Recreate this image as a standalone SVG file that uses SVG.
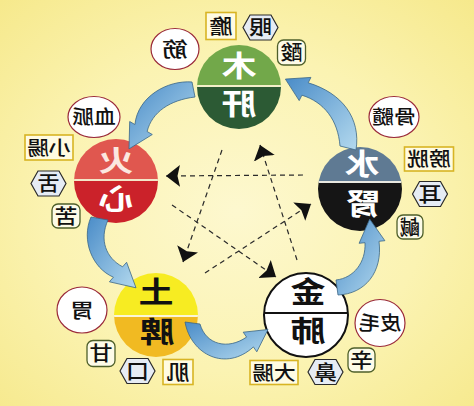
<svg xmlns="http://www.w3.org/2000/svg" width="474" height="406" viewBox="0 0 474 406">
<defs>
<radialGradient id="bg" cx="50%" cy="52%" r="72%">
<stop offset="0" stop-color="#fdf8cf"/>
<stop offset="0.55" stop-color="#fbf3b2"/>
<stop offset="1" stop-color="#f6e98c"/>
</radialGradient>
<linearGradient id="ag" x1="0" y1="0" x2="1" y2="1">
<stop offset="0" stop-color="#4a8cc8"/>
<stop offset="1" stop-color="#b3d9ee"/>
</linearGradient>
<marker id="ah" viewBox="0 -12 15 24" refX="14" refY="0" markerWidth="15" markerHeight="24" markerUnits="userSpaceOnUse" orient="auto">
<path d="M0,-11 L14,0 L0,11 L2.5,0 Z" fill="#111"/>
</marker>
<path id="hex" d="M-17.5,0 L-10.5,-12.5 L10.5,-12.5 L17.5,0 L10.5,12.5 L-10.5,12.5 Z"/>
<clipPath id="cc"><circle cx="0" cy="0" r="42"/></clipPath>
</defs>
<style>
.t{font-family:"Noto Sans CJK TC","Noto Sans CJK SC","Noto Sans CJK JP",sans-serif;text-anchor:middle}
.s{font-size:20px;font-weight:500;fill:#111}
.s2{font-size:19px;font-weight:500;fill:#111}
.big{font-size:29px;font-weight:700}
.circ{fill:#fff;stroke:#9a2a3a;stroke-width:1.2}
.box{fill:#fffbe2;stroke:#d8b424;stroke-width:1.6}
.hex{fill:#e6ecf4;stroke:#2a2a2a;stroke-width:1.2}
.rnd{fill:#fdfbe8;stroke:#4e5f2a;stroke-width:1.3}
.arr{fill:url(#ag);stroke:#3a6686;stroke-width:0.8}
.dash{fill:none;stroke:#2a2a2a;stroke-width:1.2;stroke-dasharray:5 4;marker-end:url(#ah)}
</style>
<rect width="474" height="406" fill="url(#bg)"/>

<!-- main nodes -->
<g id="wood" transform="translate(239,87)">
<g clip-path="url(#cc)">
<rect x="-43" y="-43" width="86" height="42" fill="#72a84a"/>
<rect x="-43" y="-1" width="86" height="44" fill="#2c5a34"/>
<line x1="-43" y1="-1" x2="43" y2="-1" stroke="#f3efc8" stroke-width="2"/>
</g>
<text class="t big" fill="#fff" transform="translate(0,-20) scale(-1.2,1)" y="10">木</text>
<text class="t big" fill="#fff" transform="translate(0,18) scale(-1.2,1)" y="10">肝</text>
</g>
<g id="fire" transform="translate(116,181)">
<g clip-path="url(#cc)">
<rect x="-43" y="-43" width="86" height="42" fill="#e0574f"/>
<rect x="-43" y="-1" width="86" height="44" fill="#cb222a"/>
<line x1="-43" y1="-1" x2="43" y2="-1" stroke="#f3e6c8" stroke-width="2"/>
</g>
<text class="t big" fill="#fbe8e0" transform="translate(0,-19) scale(-1.2,1)" y="10">火</text>
<text class="t big" fill="#fff" transform="translate(0,19) scale(-1.2,1)" y="10">心</text>
</g>
<g id="water" transform="translate(360,189)">
<g clip-path="url(#cc)">
<rect x="-43" y="-43" width="86" height="36" fill="#5f7a93"/>
<rect x="-43" y="-7" width="86" height="50" fill="#151515"/>
<line x1="-43" y1="-7" x2="43" y2="-7" stroke="#e8e8e0" stroke-width="2"/>
</g>
<text class="t big" fill="#fff" transform="translate(2,-24) scale(-1.2,1)" y="10">水</text>
<text class="t big" fill="#fff" transform="translate(3,16) scale(-1.2,1)" y="10">腎</text>
</g>
<g id="earth" transform="translate(156,315)">
<g clip-path="url(#cc)">
<rect x="-43" y="-43" width="86" height="44" fill="#f7ec22"/>
<rect x="-43" y="1" width="86" height="42" fill="#f1ba22"/>
<line x1="-43" y1="1" x2="43" y2="1" stroke="#fbf6d8" stroke-width="2"/>
</g>
<text class="t big" fill="#111" transform="translate(0,-22) scale(-1.2,1)" y="10">土</text>
<text class="t big" fill="#111" transform="translate(1,18) scale(-1.2,1)" y="10">脾</text>
</g>
<g id="metal" transform="translate(306,315)">
<circle r="42" fill="#fff" stroke="#111" stroke-width="2"/>
<line x1="-42" y1="-2" x2="42" y2="-2" stroke="#111" stroke-width="2"/>
<text class="t big" fill="#111" transform="translate(2,-22) scale(-1.2,1)" y="10">金</text>
<text class="t big" fill="#111" transform="translate(2,17) scale(-1.2,1)" y="10">肺</text>
</g>

<!-- wood labels -->
<g id="l-jin" transform="translate(175,49)"><ellipse class="circ" rx="24" ry="20.5"/><text class="t s" transform="scale(-1.3,1)" y="7.5">筋</text></g>
<g id="l-dan" transform="translate(221,26)"><rect class="box" x="-15" y="-13.5" width="30" height="27"/><text class="t s" transform="scale(-1.15,1)" y="7.5">膽</text></g>
<g id="l-yan" transform="translate(260.5,27.5)"><use href="#hex" class="hex"/><text class="t s" transform="scale(-1.15,1)" y="7.5">眼</text></g>
<g id="l-suan" transform="translate(291.5,52.5)"><rect class="rnd" x="-14" y="-12.5" width="28" height="25" rx="6"/><text class="t s" transform="scale(-1.1,1)" y="7.5">酸</text></g>

<!-- fire labels -->
<g id="l-xuemai" transform="translate(94,117)"><ellipse class="circ" rx="26" ry="20.5"/><text class="t s2" transform="scale(-1.15,1)" y="7">血脈</text></g>
<g id="l-xiaochang" transform="translate(49,147.5)"><rect class="box" x="-24" y="-12.5" width="48" height="25"/><text class="t s2" transform="scale(-1.15,1)" y="7">小腸</text></g>
<g id="l-she" transform="translate(48.5,183.5)"><use href="#hex" class="hex"/><text class="t s" transform="scale(-1.1,1)" y="7.5">舌</text></g>
<g id="l-ku" transform="translate(66,216)"><rect class="rnd" x="-14" y="-12" width="28" height="24" rx="6"/><text class="t s" transform="scale(-1.15,1)" y="7.5">苦</text></g>

<!-- water labels -->
<g id="l-gusui" transform="translate(394,117)"><ellipse class="circ" rx="25" ry="20.5"/><text class="t s2" transform="scale(-1.15,1)" y="7">骨髓</text></g>
<g id="l-pangguang" transform="translate(429,159)"><rect class="box" x="-24.5" y="-12" width="49" height="24"/><text class="t s2" transform="scale(-1.15,1)" y="7">膀胱</text></g>
<g id="l-er" transform="translate(430,194)"><use href="#hex" class="hex"/><text class="t s" transform="scale(-1.15,1)" y="7.5">耳</text></g>
<g id="l-xian" transform="translate(410,227)"><rect class="rnd" x="-13" y="-12" width="26" height="24" rx="6"/><text class="t s" transform="scale(-1.0,1)" y="7.5">鹹</text></g>

<!-- earth labels -->
<g id="l-wei" transform="translate(82,310)"><ellipse class="circ" rx="25" ry="23"/><text class="t s" transform="scale(-1.2,1)" y="7.5">胃</text></g>
<g id="l-gan" transform="translate(101,353.5)"><rect class="rnd" x="-14" y="-13" width="28" height="26" rx="6"/><text class="t s" transform="scale(-1.15,1)" y="7.5">甘</text></g>
<g id="l-kou" transform="translate(137.5,371)"><use href="#hex" class="hex"/><text class="t s" transform="scale(-1.15,1)" y="7.5">口</text></g>
<g id="l-ji" transform="translate(178,372)"><rect class="box" x="-15" y="-12.5" width="30" height="25"/><text class="t s" transform="scale(-1.15,1)" y="7.5">肌</text></g>

<!-- metal labels -->
<g id="l-pimao" transform="translate(380,323)"><ellipse class="circ" rx="25" ry="23.5"/><text class="t s2" transform="scale(-1.12,1)" y="7">皮毛</text></g>
<g id="l-xin" transform="translate(361.5,360)"><rect class="rnd" x="-13.5" y="-12" width="27" height="24" rx="6"/><text class="t s" transform="scale(-1.15,1)" y="7.5">辛</text></g>
<g id="l-bi" transform="translate(325.5,372)"><use href="#hex" class="hex"/><text class="t s" transform="scale(-1.15,1)" y="7.5">鼻</text></g>
<g id="l-dachang" transform="translate(274,372.5)"><rect class="box" x="-24" y="-12" width="48" height="24"/><text class="t s2" transform="scale(-1.15,1)" y="7">大腸</text></g>

<!-- connectors -->
<g id="connectors">
<line class="dash" x1="303" y1="175" x2="166" y2="176"/>
<line class="dash" x1="222" y1="150" x2="183" y2="262"/>
<line class="dash" x1="172" y1="205" x2="276" y2="277"/>
<line class="dash" x1="205" y1="273" x2="311" y2="204"/>
<line class="dash" x1="297" y1="260" x2="260" y2="145"/>
<path class="arr" d="M192,82 C168,80 138,96 134.9,124.5 L129.7,121.5 L129,148.9 L152.3,134.5 L147.1,131.5 C152,112 170,100 195,97 Z"/>
<path class="arr" d="M91,217 C81,240 92,268 113.4,277.2 L109.4,281.8 L136,287.8 L126.6,262.3 L122.6,266.8 C106,258 99,240 108,220 Z"/>
<path class="arr" d="M185,322 C191,355 226,372 253.4,346.9 L256.8,351.8 L268,329.5 L243.2,332.2 L246.6,337.1 C228,350 206,345 200,324 Z"/>
<path class="arr" d="M338,295 C365,294 383,272 379,241.3 L384.9,240.7 L369.7,219.1 L359.1,243.3 L365,242.7 C366,262 354,278 336,280 Z"/>
<path class="arr" d="M356,150 C361,118 342,93 308.2,82.8 L310.9,77.4 L285.4,79.1 L299.2,100.6 L301.9,95.2 C324,102 338,120 340,146 Z"/>
</g>
</svg>
